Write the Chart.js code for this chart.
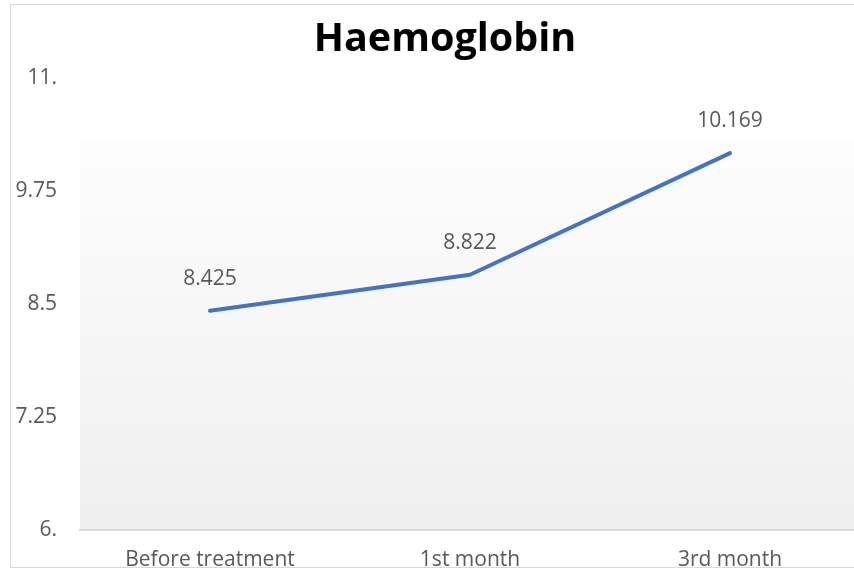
<!DOCTYPE html>
<html>
<head>
<meta charset="utf-8">
<script src="https://cdn.jsdelivr.net/npm/chart.js@4"></script>
<style>
  html, body { margin: 0; padding: 0; background: #fff; overflow: hidden; width: 854px; height: 572px; }
  #clip { position: absolute; left: 0; top: 0; width: 854px; height: 567px; overflow: hidden; }
  #c { position: absolute; left: 0; top: 0; }
  #frame { position: absolute; left: 10px; top: 4px; width: 900px; height: 562px; border: 1px solid #d9d9d9; border-right: none; pointer-events: none; }
</style>
</head>
<body>
<div id="clip"><canvas id="c" width="880" height="611"></canvas></div>
<div id="frame"></div>
<script>
const categories = ['Before treatment', '1st month', '3rd month'];
const haemoglobin = [8.425, 8.822, 10.169];
const dataLabels = ['8.425', '8.822', '10.169'];
const yTickValues = [6, 7.25, 8.5, 9.75, 11];
const yTickLabels = ['6.', '7.25', '8.5', '9.75', '11.'];
const chartTitle = 'Haemoglobin';

const FONT = "'Open Sans', 'Liberation Sans', sans-serif";
const TEXT = '#595959';

const bgPlugin = {
  id: 'plotBg',
  beforeDraw(chart) {
    const a = chart.chartArea, ctx = chart.ctx;
    const top = a.top + (a.bottom - a.top) * 0.133;
    const g = ctx.createLinearGradient(0, top, 0, a.bottom);
    g.addColorStop(0, '#fdfdfd');
    g.addColorStop(1, '#efefef');
    ctx.save();
    ctx.fillStyle = g;
    ctx.fillRect(a.left, top, a.right - a.left, a.bottom - top);
    ctx.restore();
  }
};

const titlePlugin = {
  id: 'titleText',
  afterDraw(chart) {
    const ctx = chart.ctx;
    ctx.save();
    ctx.font = 'bold 39.5px ' + FONT;
    ctx.fillStyle = '#000';
    ctx.textAlign = 'center';
    ctx.textBaseline = 'alphabetic';
    ctx.fillText(chartTitle, 445, 51);
    ctx.restore();
  }
};

const labelPlugin = {
  id: 'valLabels',
  afterDatasetsDraw(chart) {
    const ctx = chart.ctx;
    const meta = chart.getDatasetMeta(0);
    ctx.save();
    ctx.font = '21px ' + FONT;
    ctx.fillStyle = TEXT;
    ctx.textAlign = 'center';
    ctx.textBaseline = 'middle';
    meta.data.forEach((pt, i) => {
      ctx.fillText(dataLabels[i], pt.x, pt.y - 32);
    });
    ctx.restore();
  }
};

new Chart(document.getElementById('c'), {
  type: 'line',
  data: {
    labels: categories,
    datasets: [{
      data: haemoglobin,
      borderColor: '#4472c4',
      borderWidth: 4,
      pointRadius: 0,
      pointHoverRadius: 0,
      tension: 0,
      borderCapStyle: 'round',
      borderJoinStyle: 'round',
      fill: false
    }]
  },
  options: {
    responsive: false,
    animation: false,
    events: [],
    layout: { padding: { left: 0, right: 20, top: 78, bottom: 20 } },
    plugins: {
      legend: { display: false },
      tooltip: { enabled: false },
      title: { display: false }
    },
    scales: {
      x: {
        offset: true,
        grid: { display: false, drawTicks: false },
        border: { display: true, color: '#d9d9d9', width: 2 },
        ticks: { color: TEXT, font: { family: FONT, size: 21 }, padding: 18, maxRotation: 0 }
      },
      y: {
        min: 6,
        max: 11,
        afterBuildTicks(scale) { scale.ticks = yTickValues.map(v => ({ value: v })); },
        afterFit(scale) { scale.width = 80; },
        grid: { display: false, drawTicks: false },
        border: { display: false },
        ticks: {
          color: TEXT,
          font: { family: FONT, size: 21 },
          padding: 23,
          callback(v) { const i = yTickValues.indexOf(v); return i >= 0 ? yTickLabels[i] : ''; }
        }
      }
    }
  },
  plugins: [bgPlugin, labelPlugin, titlePlugin]
});
</script>
</body>
</html>
